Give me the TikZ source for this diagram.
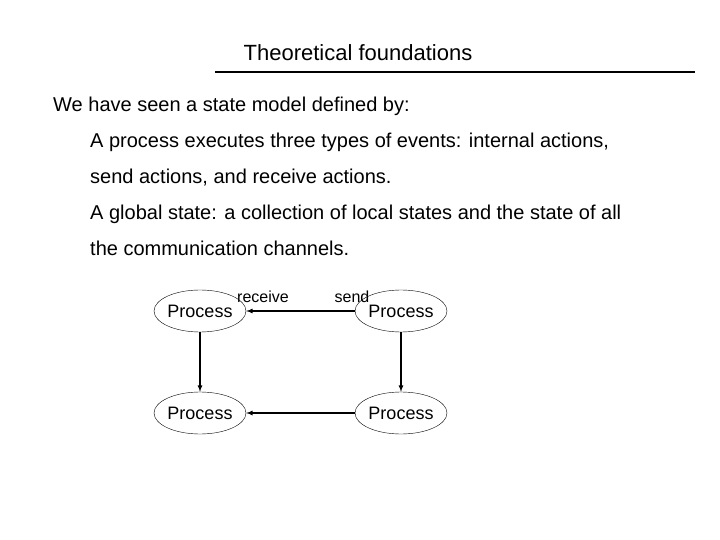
\documentclass[tikz,border=0pt]{standalone}
\usepackage{fontspec}
\setmainfont{Liberation Sans}
\usetikzlibrary{shapes.geometric,arrows}

\begin{document}
\begin{tikzpicture}[x=1pt,y=-1pt,every node/.style={inner sep=0pt}]
			\useasboundingbox (0,0) rectangle (720,540);
			\tikzset{proc/.style={ellipse,draw=black,minimum width=90pt,minimum height=42pt,font=\fontsize{18}{20}\selectfont}}
			\tikzset{line/.style={anchor=base west,font=\fontsize{20}{22}\selectfont}}
			\node [font=\fontsize{22}{24}\selectfont] (title) at (358,53) {Theoretical foundations};
			\coordinate (r1) at (215,72);
			\coordinate (r2) at (695,72);
			\draw[line width=2pt] (r1) -- (r2);

			\node [line] (t1) at (53,112) {We have seen a state model defined by:};
			\node [line] (t2) at (90,148) {A process executes three types of events: internal actions,};
			\node [line] (t3) at (90,184) {send actions, and receive actions.};
			\node [line] (t4) at (90,219) {A global state: a collection of local states and the state of all};
			\node [line] (t5) at (90,255) {the communication channels.};

			\node [proc] (n1) at (200,311) {Process};
			\node [proc] (n2) at (401,311) {Process};
			\node [proc] (n3) at (200,413) {Process};
			\node [proc] (n4) at (401,413) {Process};
			\node [font=\fontsize{16}{18}\selectfont] (rc) at (263,297) {receive};
			\node [font=\fontsize{16}{18}\selectfont] (sd) at (352,297) {send};

			\draw[-latex,line width=1.2pt] (n2) -- (n1);
			\draw[-latex,line width=1.2pt] (n1) -- (n3);
			\draw[-latex,line width=1.2pt] (n2) -- (n4);
			\draw[-latex,line width=1.2pt] (n4) -- (n3);
		\end{tikzpicture}
\end{document}
